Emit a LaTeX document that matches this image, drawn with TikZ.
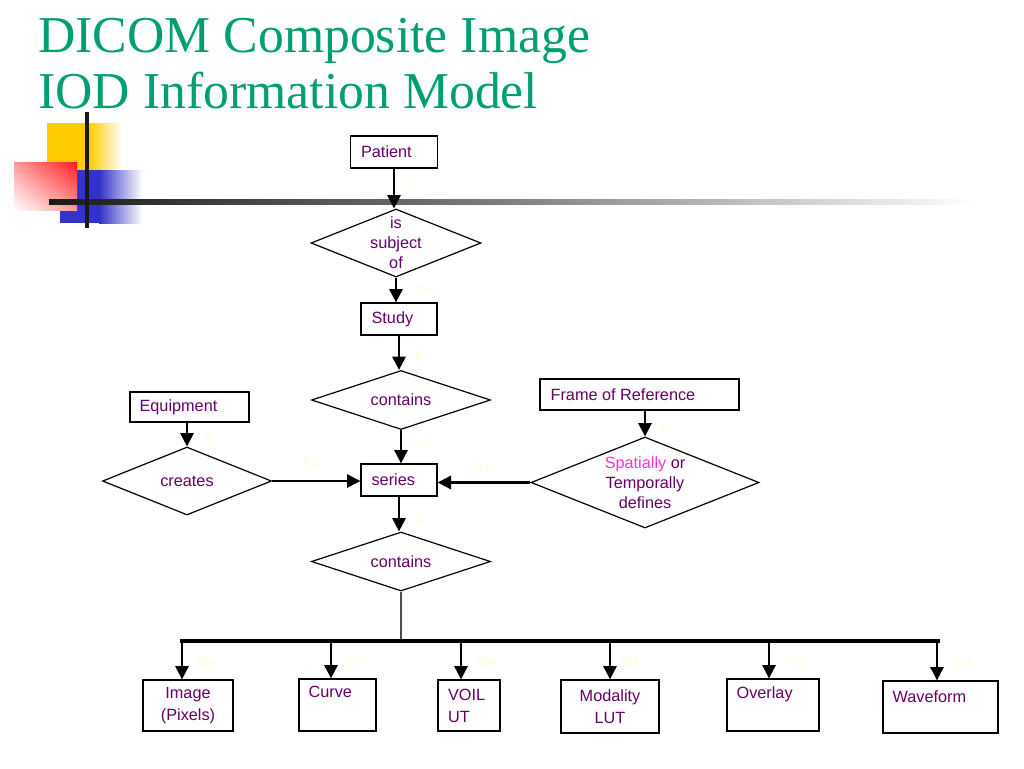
\documentclass[tikz,border=0pt]{standalone}
\usepackage{fontspec}
\setmainfont{Liberation Sans}
\newfontfamily\titlefont{Liberation Serif}
\usetikzlibrary{shapes.geometric,arrows.meta,calc,shadings}
\definecolor{txtpurple}{RGB}{102,0,102}
\definecolor{titlegreen}{RGB}{0,158,115}
\definecolor{pinkword}{RGB}{255,51,204}
\definecolor{cardyellow}{RGB}{255,255,204}
\definecolor{sqyellow}{RGB}{255,204,0}
\definecolor{sqblue}{RGB}{51,51,204}
\definecolor{sqred}{RGB}{255,30,30}
\begin{document}
\begin{tikzpicture}[x=0.75pt,y=-0.75pt,
  every node/.style={font=\fontsize{12.2}{15}\selectfont, text=txtpurple},
  bw/.style={minimum width=#1*0.75pt},
  bh/.style={minimum height=#1*0.75pt},
  box/.style={draw=black, line width=1pt, rectangle, inner sep=0pt, fill=white},
  rel/.style={draw=black, line width=0.9pt, diamond, inner sep=0pt, fill=white},
  intext/.style={anchor=center, inner sep=0pt, align=center},
  wtext/.style={anchor=west, inner sep=0pt, xshift=8.25pt},
  tltext/.style={anchor=north west, inner sep=0pt, xshift=7.5pt, yshift=-6pt},
  conn/.style={draw=black, line width=1.6pt, -{Triangle[length=10pt,width=10pt]}},
  card/.style={text=cardyellow, font=\fontsize{9}{10}\selectfont, inner sep=0pt},
  titletext/.style={anchor=base west, inner sep=0pt, text=titlegreen, font=\titlefont\fontsize{38.8}{42}\selectfont},
]
\useasboundingbox (0,0) rectangle (1024,768);

% decoration
\fill[sqyellow] (47,123) rectangle (90,193);
\shade[left color=sqyellow, right color=white] (89,123) rectangle (122,193);
\fill[sqblue] (60,170) rectangle (100,223);
\shade[left color=sqblue, right color=white] (99,170) rectangle (142,223);
\shade[upper left=sqred!45!white, upper right=sqred, lower left=white, lower right=sqred!45!white] (14,162) rectangle (77,210);
\shade[left color=black!90, right color=white, middle color=black!50] (49,199) rectangle (975,204);
\draw[line width=3pt, black!90] (87,112) -- (87,228);

% title
\node[titletext] (t1) at (38,52) {DICOM Composite Image};
\node[titletext] (t2) at (38,108) {IOD Information Model};

% upper chain
\node[box, bw=87, bh=32, label={[wtext]west:Patient}] (patient) at (394,152) {};
\node[rel, bw=170, bh=68, label={[intext]center:is\\subject\\of}] (subj) at (396,243) {};
\node[box, bw=76, bh=32, label={[wtext]west:Study}] (study) at (399,319) {};
\node[rel, bw=179, bh=59, label={[intext]center:contains}] (cont1) at (401,400) {};
\node[box, bw=76, bh=32, label={[wtext]west:series}] (series) at (399,480) {};
\node[box, bw=119, bh=30, label={[wtext, xshift=-0.75pt]west:Equipment}] (equip) at (189.5,407) {};
\node[rel, bw=169, bh=68, label={[intext]center:creates}] (creates) at (187,481) {};
\node[box, bw=199, bh=31, label={[wtext]west:Frame of Reference}] (for) at (639.5,394.5) {};
\node[rel, bw=228, bh=91, label={[intext]center:{\textcolor{pinkword}{Spatially} or\\Temporally\\defines}}] (spatial) at (645,482.5) {};
\node[rel, bw=179, bh=59, label={[intext]center:contains}] (cont2) at (401,561.5) {};

% bottom boxes
\node[box, bw=90, bh=51, align=center, font=\fontsize{12.2}{16.5}\selectfont] (image) at (188,705.5) {Image\\(Pixels)};
\node[box, bw=77, bh=52, label={[tltext]north west:Curve}] (curve) at (337.5,705) {};
\node[box, bw=62, bh=51, align=left, text width=42*0.75pt, inner xsep=7.5pt, font=\fontsize{12.2}{16.5}\selectfont] (voi) at (469,705.5) {VOIL\\UT};
\node[box, bw=98, bh=53, align=center, font=\fontsize{12.2}{16.5}\selectfont] (modlut) at (610,706.5) {Modality\\LUT};
\node[box, bw=92, bh=52, label={[tltext]north west:Overlay}] (overlay) at (773,705) {};
\node[box, bw=115, bh=52, label={[tltext, yshift=-1.5pt]north west:Waveform}] (wave) at (940.5,707) {};

% connectors
\draw[conn] (patient.south) -- (patient.south |- subj.north);
\draw[conn] (subj.south) -- (subj.south |- study.north);
\draw[conn] (study.south) -- (study.south |- cont1.north);
\draw[conn] (cont1.south) -- (cont1.south |- series.north);
\draw[conn] (creates.north |- equip.south) -- (creates.north);
\draw[conn] (creates.east) -- (creates.east -| series.west);
\draw[conn] (spatial.north |- for.south) -- (spatial.north);
\draw[conn] (spatial.west) -- (spatial.west -| series.east);
\draw[conn] (series.south) -- (series.south |- cont2.north);

% bus
\coordinate (busL) at (182,641);
\coordinate (busR) at (938,641);
\coordinate (b1) at (182,641);
\coordinate (b2) at (331,641);
\coordinate (b3) at (461,641);
\coordinate (b4) at (610,641);
\coordinate (b5) at (769,641);
\coordinate (b6) at (937,641);
\draw[line width=0.8pt, black!70] (cont2.south) -- (cont2.south |- busL);
\draw[line width=3pt, line cap=rect] (busL) -- (busR);
\draw[conn] (b1) -- (b1 |- image.north);
\draw[conn] (b2) -- (b2 |- curve.north);
\draw[conn] (b3) -- (b3 |- voi.north);
\draw[conn] (b4) -- (b4 |- modlut.north);
\draw[conn] (b5) -- (b5 |- overlay.north);
\draw[conn] (b6) -- (b6 |- wave.north);

% cardinalities
\node[card] (c1) at (410,186) {1};
\node[card] (c2) at (427,291) {0,n};
\node[card] (c3) at (418,356) {1};
\node[card] (c4) at (421,442) {1,n};
\node[card] (c5) at (310,465) {1,n};
\node[card] (c6) at (484,468) {0,n};
\node[card] (c7) at (208,437) {1};
\node[card] (c8) at (663,428) {1};
\node[card] (c9) at (419,518) {1};
\node[card] (c10) at (207,662) {0,n};
\node[card] (c11) at (357,662) {0,n};
\node[card] (c12) at (487,662) {0,n};
\node[card] (c13) at (631,662) {0,1};
\node[card] (c14) at (797,662) {0,n};
\node[card] (c15) at (963,662) {0,n};
\end{tikzpicture}
\end{document}
